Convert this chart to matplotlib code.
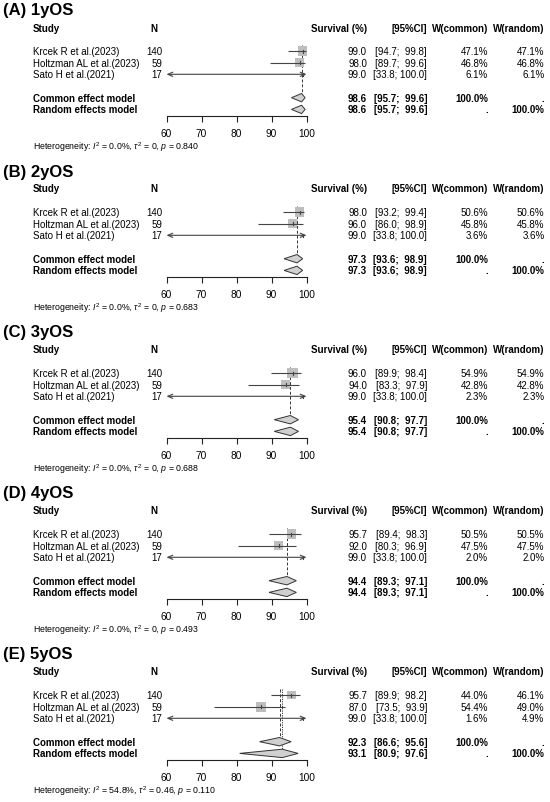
import matplotlib
matplotlib.use("Agg")
import matplotlib.pyplot as plt
from matplotlib.patches import Rectangle, Polygon

plt.rcParams['font.family'] = ['Liberation Sans', 'DejaVu Sans']
plt.rcParams['mathtext.fontset'] = 'custom'
plt.rcParams['mathtext.rm'] = 'Liberation Sans'
plt.rcParams['mathtext.it'] = 'Liberation Sans:italic'
plt.rcParams['mathtext.bf'] = 'Liberation Sans:bold'

# ------------------------------
# Datos
# ------------------------------
paneles = ["(A) 1yOS", "(B) 2yOS", "(C) 3yOS", "(D) 4yOS", "(E) 5yOS"]
estudios = ["Krcek R et al.(2023)", "Holtzman AL et al.(2023)", "Sato H et al.(2021)"]
n_pacientes = [140, 59, 17]

estimacion = [[99.0, 98.0, 99.0], [98.0, 96.0, 99.0], [96.0, 94.0, 99.0],
              [95.7, 92.0, 99.0], [95.7, 87.0, 99.0]]
ic_inf = [[94.7, 89.7, 33.8], [93.2, 86.0, 33.8], [89.9, 83.3, 33.8],
          [89.4, 80.3, 33.8], [89.9, 73.5, 33.8]]
ic_sup = [[99.8, 99.6, 100.0], [99.4, 98.9, 100.0], [98.4, 97.9, 100.0],
          [98.3, 96.9, 100.0], [98.2, 93.9, 100.0]]
peso_comun = [[47.1, 46.8, 6.1], [50.6, 45.8, 3.6], [54.9, 42.8, 2.3],
              [50.5, 47.5, 2.0], [44.0, 54.4, 1.6]]
peso_aleat = [[47.1, 46.8, 6.1], [50.6, 45.8, 3.6], [54.9, 42.8, 2.3],
              [50.5, 47.5, 2.0], [46.1, 49.0, 4.9]]

# (estimacion, inferior, superior)
modelo_comun = [(98.6, 95.7, 99.6), (97.3, 93.6, 98.9), (95.4, 90.8, 97.7),
                (94.4, 89.3, 97.1), (92.3, 86.6, 95.6)]
modelo_aleat = [(98.6, 95.7, 99.6), (97.3, 93.6, 98.9), (95.4, 90.8, 97.7),
                (94.4, 89.3, 97.1), (93.1, 80.9, 97.6)]

het_i2 = ["0.0%", "0.0%", "0.0%", "0.0%", "54.8%"]
het_tau2 = ["0", "0", "0", "0", "0.46"]
het_p = ["0.840", "0.683", "0.688", "0.493", "0.110"]

ticks = [60, 70, 80, 90, 100]

# ------------------------------
# Layout (pixeles)
# ------------------------------
W, H = 550, 803
ALTO_PANEL = 161
FILAS = [52, 63.7, 75.3]
FILA_COMUN = 98.7
FILA_ALEAT = 110.4
X0, X1 = 166.5, 306.5      # posicion del eje 60..100
Y_TOP, Y_EJE = 40, 117
PX_UNIDAD = (X1 - X0) / (ticks[-1] - ticks[0])

fs = 7.0
gris_linea = "#444444"

fig = plt.figure(figsize=(W / 100, H / 100), dpi=100)
bg = fig.add_axes([0, 0, 1, 1])
bg.set_xlim(0, W)
bg.set_ylim(H, 0)
bg.axis('off')


def formato_ic(lo, hi):
    return "[{:4.1f}; {:5.1f}]".format(lo, hi).replace("[ ", "[")


def diamante(ax, est, lo, hi, y, h=4.2):
    ax.add_patch(Polygon([(lo, y), (est, y - h), (hi, y), (est, y + h)],
                         closed=True, facecolor="#D0D0D0", edgecolor="#333333",
                         lw=0.7, zorder=4))


for p, titulo in enumerate(paneles):
    off = p * ALTO_PANEL
    bg.text(3, off + 11, titulo, fontsize=12, fontweight='bold', va='center', ha='left')

    yh = off + 28.5
    bg.text(33, yh, "Study", fontsize=fs, fontweight='bold', va='center', ha='left')
    bg.text(150.5, yh, "N", fontsize=fs, fontweight='bold', va='center', ha='left')
    bg.text(367, yh, "Survival (%)", fontsize=fs, fontweight='bold', va='center', ha='right')
    bg.text(427, yh, "[95%CI]", fontsize=fs, fontweight='bold', va='center', ha='right')
    bg.text(488, yh, "W(common)", fontsize=fs, fontweight='bold', va='center', ha='right')
    bg.text(544.5, yh, "W(random)", fontsize=fs, fontweight='bold', va='center', ha='right')

    for i, nombre in enumerate(estudios):
        y = off + FILAS[i]
        bg.text(33, y, nombre, fontsize=fs, va='center', ha='left')
        bg.text(162, y, str(n_pacientes[i]), fontsize=fs, va='center', ha='right')
        bg.text(367, y, "{:.1f}".format(estimacion[p][i]), fontsize=fs, va='center', ha='right')
        bg.text(427, y, formato_ic(ic_inf[p][i], ic_sup[p][i]), fontsize=fs, va='center', ha='right')
        bg.text(488, y, "{:.1f}%".format(peso_comun[p][i]), fontsize=fs, va='center', ha='right')
        bg.text(544.5, y, "{:.1f}%".format(peso_aleat[p][i]), fontsize=fs, va='center', ha='right')

    for nombre, mod, fila, wc, wr in [("Common effect model", modelo_comun[p], FILA_COMUN, "100.0%", "."),
                                      ("Random effects model", modelo_aleat[p], FILA_ALEAT, ".", "100.0%")]:
        y = off + fila
        bg.text(33, y, nombre, fontsize=fs, fontweight='bold', va='center', ha='left')
        bg.text(367, y, "{:.1f}".format(mod[0]), fontsize=fs, fontweight='bold', va='center', ha='right')
        bg.text(427, y, formato_ic(mod[1], mod[2]), fontsize=fs, fontweight='bold', va='center', ha='right')
        bg.text(488, y, wc, fontsize=fs, fontweight='bold', va='center', ha='right')
        bg.text(544.5, y, wr, fontsize=fs, fontweight='bold', va='center', ha='right')

    bg.text(33, off + 147,
            r"Heterogeneity: $I^2$ = " + het_i2[p] + r", $\tau^2$ = " + het_tau2[p]
            + r", $p$ = " + het_p[p], fontsize=6.3, va='center', ha='left')

    # ---- eje del forest plot ----
    ax = fig.add_axes([X0 / W, 1 - (off + Y_EJE) / H, (X1 - X0) / W, (Y_EJE - Y_TOP) / H])
    ax.set_xlim(ticks[0], ticks[-1])
    ax.set_ylim(Y_EJE, Y_TOP)
    ax.patch.set_alpha(0)
    for s in ['top', 'left', 'right']:
        ax.spines[s].set_visible(False)
    ax.spines['bottom'].set_linewidth(0.8)
    ax.spines['bottom'].set_color("#222222")
    ax.set_yticks([])
    ax.set_xticks(ticks)
    ax.tick_params(axis='x', direction='out', length=4.5, width=0.8, pad=4,
                   labelsize=7.3, color="#222222")

    xmin, xmax = ticks[0], ticks[-1]
    for i in range(len(estudios)):
        y = FILAS[i]
        est, lo, hi = estimacion[p][i], ic_inf[p][i], ic_sup[p][i]
        lado = 1.35 * peso_comun[p][i] ** 0.5
        ax.add_patch(Rectangle((est - lado / PX_UNIDAD / 2, y - lado / 2), lado / PX_UNIDAD, lado,
                               facecolor="#BEBEBE", edgecolor="none", zorder=2))
        lo_c, hi_c = max(lo, xmin), min(hi, xmax)
        izq, der = lo < xmin, hi >= xmax
        if izq and der:
            estilo = '<->'
        elif izq:
            estilo = '->'
        elif der:
            estilo = '<-'
        else:
            estilo = '-'
        if estilo == '-':
            ax.plot([lo_c, hi_c], [y, y], color=gris_linea, lw=0.8, zorder=3, solid_capstyle='butt')
        else:
            ax.annotate('', xy=(lo_c, y), xytext=(hi_c, y), annotation_clip=False,
                        arrowprops=dict(arrowstyle=estilo + ',head_length=0.35,head_width=0.15',
                                        color=gris_linea, lw=0.8, shrinkA=0, shrinkB=0), zorder=3)
        ax.plot([est, est], [y - 1.5, y + 1.5], color=gris_linea, lw=0.8, zorder=3)

    # lineas de referencia
    ax.vlines(modelo_comun[p][0], FILAS[0] - 6, FILA_COMUN - 4, colors="#333333", lw=0.7,
              linestyles=(0, (3, 2)), zorder=1)
    if modelo_aleat[p][0] != modelo_comun[p][0]:
        ax.vlines(modelo_aleat[p][0], FILAS[0] - 6, FILA_ALEAT - 4, colors="#333333", lw=0.7,
                  linestyles=(0, (1.2, 1.2)), zorder=1)

    diamante(ax, *modelo_comun[p], FILA_COMUN)
    diamante(ax, *modelo_aleat[p], FILA_ALEAT)

fig.savefig("out.png", dpi=100)
